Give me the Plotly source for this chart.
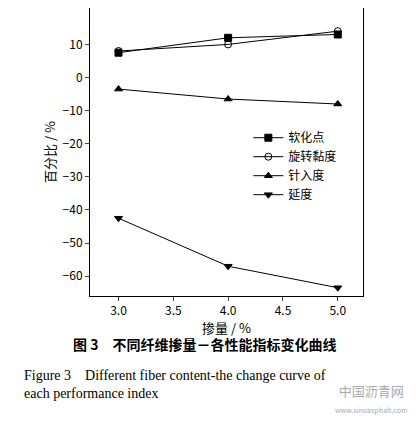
import plotly.graph_objects as go

x = [3.0, 4.0, 5.0]
soft = [7.5, 12, 13]
visc = [8, 10, 14]
pen = [-3.5, -6.5, -8]
duct = [-42.5, -57, -63.5]
names = ["软化点", "旋转黏度", "针入度", "延度"]

F = "Noto Sans CJK SC"
fig = go.Figure()
specs = [(soft, "square"), (visc, "circle-open"), (pen, "triangle-up"), (duct, "triangle-down")]
for (vals, sym), n in zip(specs, names):
    fig.add_trace(go.Scatter(x=x, y=vals, name=n, mode="lines+markers",
        line=dict(color="black", width=1),
        marker=dict(symbol=sym, size=7, color="black", line=dict(color="black", width=1))))

ax = dict(showline=True, linecolor="black", mirror=True, ticks="outside", ticklen=4,
          showgrid=False, zeroline=False, tickfont=dict(family=F, size=12, color="black"))
fig.update_layout(
    width=416, height=421, plot_bgcolor="white", paper_bgcolor="white",
    margin=dict(l=82, r=61, t=0, b=133),
    xaxis=dict(range=[2.74, 5.23], tickvals=[3.0, 3.5, 4.0, 4.5, 5.0], ticktext=["3.0","3.5","4.0","4.5","5.0"],
               title=dict(text="掺量 / %", font=dict(family=F, size=13, color="black"), standoff=4), **ax),
    yaxis=dict(range=[-66, 21], tickvals=[10, 0, -10, -20, -30, -40, -50, -60],
               ticktext=["10","0","−10","−20","−30","−40","−50","−60"],
               title=dict(text="百分比 / %", font=dict(family=F, size=13, color="black"), standoff=4), **ax),
    legend=dict(x=0.58, y=0.6, xanchor="left", yanchor="top", bgcolor="rgba(0,0,0,0)",
                font=dict(family=F, size=12, color="black"), tracegroupgap=0),
    showlegend=True,
)
fig.add_annotation(text="<b>图 3</b>　<b>不同纤维掺量－各性能指标变化曲线</b>", xref="paper", yref="paper",
                   x=0.42, y=-0.21, showarrow=False, font=dict(family=F, size=14, color="black"))
fig.add_annotation(text="Figure 3　Different fiber content-the change curve of<br>each performance index", xref="paper", yref="paper",
                   x=-0.25, y=-0.37, xanchor="left", yanchor="bottom", align="left", showarrow=False,
                   font=dict(family="Liberation Serif", size=14, color="black"))
fig.add_annotation(text="中国沥青网<br><span style='font-size:7px'>www.sinoasphalt.com</span>", xref="paper", yref="paper",
                   x=1.17, y=-0.42, xanchor="right", yanchor="bottom", showarrow=False,
                   font=dict(family=F, size=13, color="#aaaaaa"))
fig.write_html("out.html")
